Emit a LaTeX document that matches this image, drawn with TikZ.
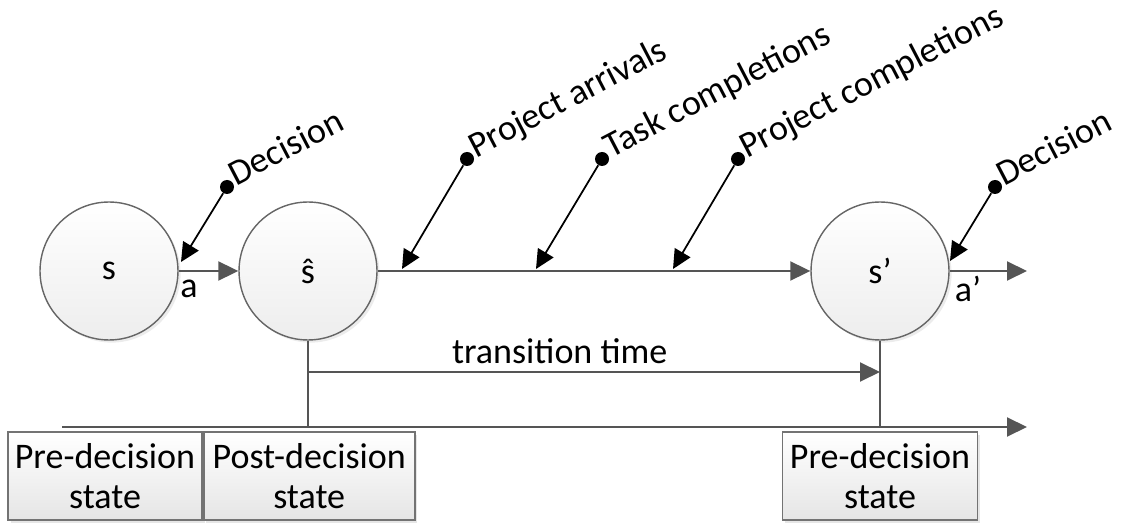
\documentclass[tikz,border=0pt]{standalone}
\usepackage{fontspec}
\setmainfont{Carlito}
\usetikzlibrary{arrows.meta, positioning, shadows}

\definecolor{lineGray}{RGB}{85,85,85}

\begin{document}
\begin{tikzpicture}[
	x=0.02cm, y=-0.02cm,
	font=\fontsize{20.5}{22.8}\selectfont,
	state/.style={circle, draw=black!60, line width=0.8pt, top color=white, bottom color=black!7, minimum size=2.76cm, inner sep=0pt,
		drop shadow={shadow xshift=1.5pt, shadow yshift=-1.5pt, opacity=0.15}},
	stbox/.style={rectangle, draw=black!55, line width=1pt, top color=white, bottom color=black!10, minimum height=1.76cm, align=center, inner sep=0pt,
		drop shadow={shadow xshift=1.5pt, shadow yshift=-1.5pt, opacity=0.2}},
	flow/.style={draw=lineGray, line width=1.1pt, -{Triangle[length=0.4cm, width=0.38cm]}},
	plain/.style={draw=lineGray, line width=1.1pt},
	dot/.style={circle, fill=black, minimum size=0.28cm, inner sep=0pt},
	hit/.style={draw=black, line width=1pt, -{Triangle[length=0.38cm, width=0.36cm]}},
	evtext/.style={rotate=27.5, anchor=base west, inner sep=1pt},
]
	\useasboundingbox (0,0) rectangle (1125,526);

	% states on the main line
	\node[state] (s) at (109,271) {s};
	\node[state] (shat) at (308,271) {ŝ};
	\node[state] (snext) at (880,271) {s’};
	\coordinate (out) at (1027,271);

	\draw[flow] (s) -- (shat);
	\draw[flow] (shat) -- (snext);
	\draw[flow] (snext) -- (out);

	\node (act) at (189,289) {a};
	\node (actnext) at (968,289) {a’};

	% events arriving on the line
	\node[dot] (dec1) at (227,187) {};
	\node[evtext] at (dec1.east) {Decision};
	\coordinate (hit1) at (181,262);
	\draw[hit] (dec1) -- (hit1);

	\node[dot] (arr) at (467,159) {};
	\node[evtext] at (arr.east) {Project arrivals};
	\coordinate (hit2) at (402,269);
	\draw[hit] (arr) -- (hit2);

	\node[dot] (task) at (602,159) {};
	\node[evtext] at (task.east) {Task completions};
	\coordinate (hit3) at (536,269);
	\draw[hit] (task) -- (hit3);

	\node[dot] (proj) at (738,159) {};
	\node[evtext] at (proj.east) {Project completions};
	\coordinate (hit4) at (673,269);
	\draw[hit] (proj) -- (hit4);

	\node[dot] (dec2) at (995,187) {};
	\node[evtext] at (dec2.east) {Decision};
	\coordinate (hit5) at (950,261);
	\draw[hit] (dec2) -- (hit5);

	% time axis
	\coordinate (tlStart) at (62,427);
	\coordinate (tlEnd) at (1027,427);
	\draw[flow] (tlStart) -- (tlEnd);
	\draw[plain] (shat.south) -- (shat.south |- tlStart);
	\draw[plain] (snext.south) -- (snext.south |- tlStart);

	\coordinate (ttStart) at (shat.south |- 0,372);
	\coordinate (ttEnd) at (snext.south |- 0,372);
	\draw[flow] (ttStart) -- node[above=1pt, pos=0.44] (tt) {transition time} (ttEnd);

	% state labels
	\node[stbox, minimum width=3.88cm] (pre1) at (105,476) {Pre-decision\\state};
	\node[stbox, minimum width=4.22cm, right=0pt of pre1] (post) {Post-decision\\state};
	\node[stbox, minimum width=3.9cm] (pre2) at (880,476) {Pre-decision\\state};

\end{tikzpicture}
\end{document}
